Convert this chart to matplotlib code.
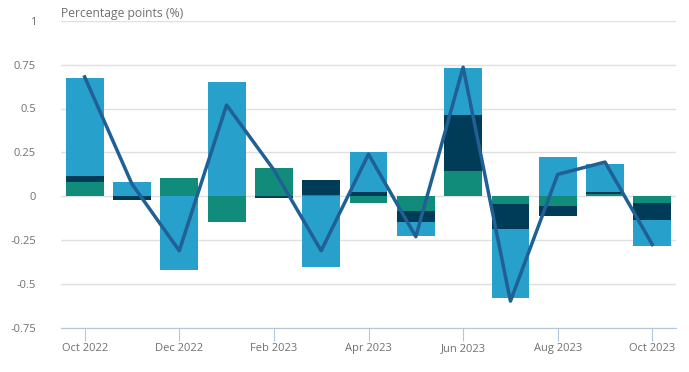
import numpy as np
import matplotlib.pyplot as plt

months = ["Oct 2022", "Nov 2022", "Dec 2022", "Jan 2023", "Feb 2023", "Mar 2023", "Apr 2023",
          "May 2023", "Jun 2023", "Jul 2023", "Aug 2023", "Sep 2023", "Oct 2023"]
green = [0.080, 0.0, 0.106, -0.144, 0.159, 0.005, -0.041, -0.081, 0.146, -0.042, -0.053, 0.015, -0.036]
navy = [0.038, -0.022, 0.0, 0.0, -0.011, 0.090, 0.027, -0.063, 0.318, -0.142, -0.061, 0.011, -0.097]
light = [0.556, 0.080, -0.420, 0.652, 0.004, -0.405, 0.227, -0.080, 0.267, -0.396, 0.226, 0.160, -0.152]
total = [0.68, 0.07, -0.31, 0.52, 0.15, -0.31, 0.24, -0.23, 0.735, -0.597, 0.125, 0.195, -0.275]

plt.rcParams['font.family'] = ['Open Sans', 'DejaVu Sans']

fig = plt.figure(figsize=(6.89, 3.72), dpi=100)
ax = fig.add_axes([61/689, 44/372, 615/689, 307.3/372])

x = np.arange(len(months))
cols = ["#118c7b", "#003c57", "#27a0cc"]
pos_base = np.zeros(len(months))
neg_base = np.zeros(len(months))
for vals, c in zip([green, navy, light], cols):
    v = np.array(vals)
    bottom = np.where(v >= 0, pos_base, neg_base)
    ax.bar(x, v, 0.8, bottom=bottom, color=c, zorder=2)
    pos_base = pos_base + np.clip(v, 0, None)
    neg_base = neg_base + np.clip(v, None, 0)

ax.plot(x, total, color="#206095", lw=2.5, zorder=3)

ax.set_xlim(-0.5, 12.5)
ax.set_ylim(-0.75, 1)
yt = [-0.75, -0.5, -0.25, 0, 0.25, 0.5, 0.75, 1]
ax.set_yticks(yt)
ax.set_yticklabels(["-0.75", "-0.5", "-0.25", "0", "0.25", "0.5", "0.75", "1"])
ax.set_xticks(x[::2])
ax.set_xticklabels(months[::2])
ax.grid(axis="y", color="#e0e0e0", lw=1, zorder=0)
for s in ["left", "right", "top"]:
    ax.spines[s].set_visible(False)
ax.spines["bottom"].set_color("#b3c7dc")
ax.tick_params(axis="y", length=0, pad=18, labelsize=8, labelcolor="#707070")
ax.tick_params(axis="x", length=9, color="#b3c7dc", labelsize=8, labelcolor="#707070", pad=2)
ax.set_axisbelow(True)

fig.text(61/689, 1 - 13/372, "Percentage points (%)", fontsize=8.7, color="#707070", va="center")

fig.savefig("out.png", dpi=100)
